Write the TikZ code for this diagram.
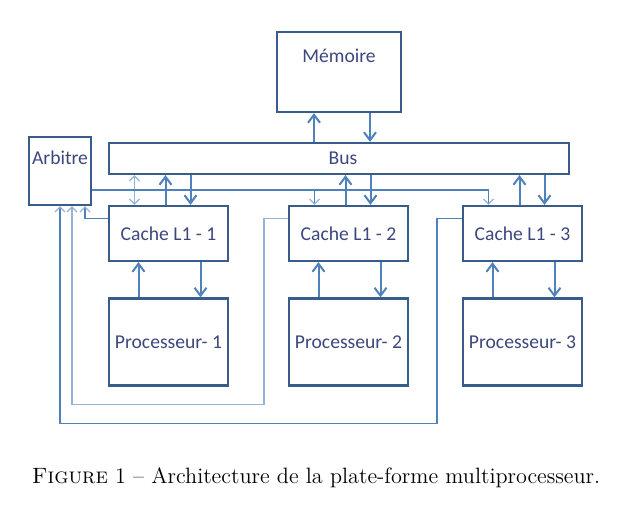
\documentclass[tikz,border=0pt]{standalone}
\usepackage{fontspec}
\newfontfamily\boxfont{Carlito}
\usetikzlibrary{arrows.meta,calc}
\definecolor{boxline}{RGB}{56,93,138}
\definecolor{wire}{RGB}{79,129,189}
\definecolor{wirelight}{RGB}{149,179,215}
\definecolor{boxtext}{RGB}{60,72,125}
\tikzset{
  box/.style={rectangle, draw=boxline, line width=1.1pt, inner sep=0pt,
    font=\boxfont\fontsize{9.8}{11}\selectfont, text=boxtext},
  boxlabel/.style={anchor=center, inner sep=0pt,
    font=\boxfont\fontsize{9.8}{11}\selectfont, text=boxtext},
  arr/.style={wire, line width=1pt, -{Straight Barb[length=4pt,width=6pt,line width=1pt]}},
  sig/.style={wire, line width=0.6pt, -{Straight Barb[length=2.5pt,width=5pt,color=wirelight]}},
  sigl/.style={wirelight, line width=0.6pt, -{Straight Barb[length=2.5pt,width=5pt]}}
}
\begin{document}
\begin{tikzpicture}[x=0.5pt, y=-0.5pt]
        \useasboundingbox (0,0) rectangle (633,510);
        % Define nodes for memory, bus and arbiter
        \node at (339, 72) (mem) [box, minimum width=62pt, minimum height=40pt,
          label={[boxlabel, yshift=-12.5pt]north:Mémoire}] {};
        \node at (339, 158.5) (bus) [box, minimum width=230pt, minimum height=15.5pt] {\hspace{4pt}Bus};
        \node at (60, 171) (arb) [box, minimum width=31pt, minimum height=34pt,
          label={[boxlabel, yshift=-11pt]north:Arbitre}] {};

        % Define nodes for caches and processors
        \node at (168.5, 233.5) (c1) [box, minimum width=59.5pt, minimum height=27.5pt] {Cache L1 - 1};
        \node at (348.5, 233.5) (c2) [box, minimum width=59.5pt, minimum height=27.5pt] {Cache L1 - 2};
        \node at (522.5, 233.5) (c3) [box, minimum width=59.5pt, minimum height=27.5pt] {Cache L1 - 3};

        \node at (168.5, 342) (p1) [box, minimum width=59.5pt, minimum height=43.5pt] {Processeur- 1};
        \node at (348.5, 342) (p2) [box, minimum width=59.5pt, minimum height=43.5pt] {Processeur- 2};
        \node at (522.5, 342) (p3) [box, minimum width=59.5pt, minimum height=43.5pt] {Processeur- 3};

        % Memory and bus
        \draw[arr] ([xshift=-12.5pt]mem.south |- bus.north) -- ([xshift=-12.5pt]mem.south);
        \draw[arr] ([xshift=15.5pt]mem.south) -- ([xshift=15.5pt]mem.south |- bus.north);

        % Caches and bus
        \draw[arr] ([xshift=-1.5pt]c1.north) -- ([xshift=-1.5pt]c1.north |- bus.south);
        \draw[arr] ([xshift=11pt]c1.north |- bus.south) -- ([xshift=11pt]c1.north);
        \draw[arr] ([xshift=-1.5pt]c2.north) -- ([xshift=-1.5pt]c2.north |- bus.south);
        \draw[arr] ([xshift=11pt]c2.north |- bus.south) -- ([xshift=11pt]c2.north);
        \draw[arr] ([xshift=-1.5pt]c3.north) -- ([xshift=-1.5pt]c3.north |- bus.south);
        \draw[arr] ([xshift=11pt]c3.north |- bus.south) -- ([xshift=11pt]c3.north);

        % Processors and caches
        \draw[arr] ([xshift=-15pt]p1.north) -- ([xshift=-15pt]c1.south);
        \draw[arr] ([xshift=16pt]c1.south) -- ([xshift=16pt]p1.north);
        \draw[arr] ([xshift=-15pt]p2.north) -- ([xshift=-15pt]c2.south);
        \draw[arr] ([xshift=16pt]c2.south) -- ([xshift=16pt]p2.north);
        \draw[arr] ([xshift=-15pt]p3.north) -- ([xshift=-15pt]c3.south);
        \draw[arr] ([xshift=16pt]c3.south) -- ([xshift=16pt]p3.north);

        % Arbiter grants
        \draw[sigl, {Straight Barb[length=2.5pt,width=5pt]}-{Straight Barb[length=2.5pt,width=5pt]}]
          ([xshift=-17pt]c1.north) -- ([xshift=-17pt]c1.north |- bus.south);
        \coordinate (gnt) at ([yshift=-9.5pt]arb.east);
        \draw[wire, line width=0.6pt] (gnt) -- ([xshift=-17pt]c3.north |- gnt);
        \draw[sig] ([xshift=-17pt]c2.north |- gnt) -- ([xshift=-17pt]c2.north);
        \draw[sig] ([xshift=-17pt]c3.north |- gnt) -- ([xshift=-17pt]c3.north);

        % Arbiter requests
        \draw[sig] ([yshift=7.5pt]c1.west) -| ([xshift=12.5pt]arb.south);
        \draw[sigl] ([yshift=7.5pt]c2.west) -- ++(-24,0) -- ++(0,186) -| ([xshift=6pt]arb.south);
        \draw[sig] ([yshift=7.5pt]c3.west) -- ++(-25,0) -- ++(0,205) -| (arb.south);

        % Caption
        \node at (316, 478) (cap) [font=\fontsize{11.1}{13}\selectfont]
          {\textsc{Figure} 1 – Architecture de la plate-forme multiprocesseur.};
    \end{tikzpicture}
\end{document}
